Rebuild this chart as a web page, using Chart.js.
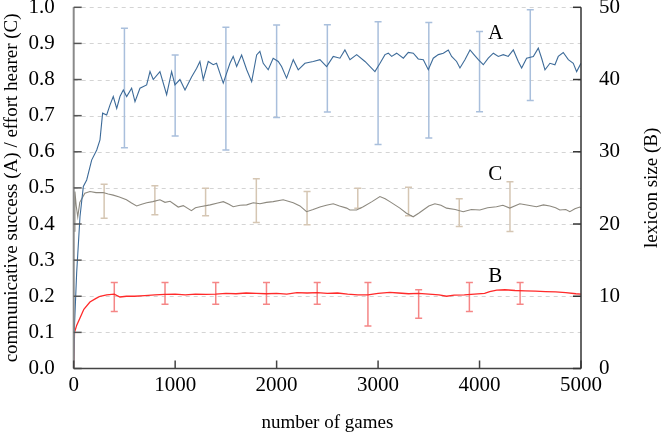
<!DOCTYPE html>
<html>
<head>
<meta charset="utf-8">
<script src="https://cdn.jsdelivr.net/npm/chart.js@4"></script>
<style>
  html, body { margin: 0; padding: 0; background: #fff; }
  #wrap { width: 664px; height: 435px; position: relative; }
</style>
</head>
<body>
<div id="wrap"><canvas id="c"></canvas></div>
<script>
// ---- data ----
const xTicks = [0, 1000, 2000, 3000, 4000, 5000];

// A: communicative success (left axis)
const seriesA = [[0,0],[8,0.12],[29,0.264],[62,0.42],[95,0.504],[128,0.522],[177,0.577],[227,0.605],[259,0.633],[285,0.707],[325,0.702],[358,0.73],[390,0.753],[424,0.72],[456,0.753],[489,0.771],[522,0.753],[571,0.776],[604,0.739],[653,0.776],[719,0.785],[752,0.822],[784,0.8],[850,0.822],[916,0.758],[965,0.822],[998,0.785],[1047,0.8],[1097,0.771],[1163,0.808],[1212,0.831],[1244,0.85],[1277,0.8],[1326,0.85],[1375,0.841],[1408,0.845],[1474,0.79],[1540,0.845],[1572,0.864],[1606,0.836],[1655,0.868],[1705,0.827],[1754,0.794],[1803,0.868],[1835,0.878],[1868,0.845],[1917,0.827],[1966,0.859],[2016,0.85],[2049,0.836],[2098,0.804],[2164,0.855],[2213,0.827],[2279,0.845],[2361,0.85],[2427,0.855],[2493,0.836],[2558,0.864],[2624,0.859],[2673,0.882],[2723,0.855],[2789,0.869],[2871,0.85],[2969,0.822],[3019,0.845],[3068,0.869],[3101,0.873],[3134,0.864],[3183,0.873],[3249,0.859],[3298,0.875],[3347,0.873],[3396,0.857],[3446,0.855],[3495,0.827],[3544,0.859],[3594,0.869],[3643,0.873],[3692,0.882],[3725,0.864],[3774,0.85],[3807,0.832],[3856,0.855],[3906,0.882],[3945,0.869],[3988,0.855],[4037,0.841],[4086,0.859],[4136,0.873],[4185,0.864],[4234,0.869],[4283,0.864],[4333,0.882],[4382,0.85],[4415,0.832],[4464,0.859],[4530,0.864],[4579,0.887],[4612,0.859],[4645,0.827],[4694,0.845],[4743,0.841],[4776,0.864],[4825,0.875],[4875,0.855],[4924,0.845],[4957,0.822],[5000,0.845]];

// C: effort hearer (left axis)
const seriesC = [[5,0.38],[12,0.49],[25,0.45],[40,0.42],[60,0.46],[80,0.47],[110,0.485],[160,0.49],[220,0.487],[290,0.487],[340,0.483],[390,0.48],[450,0.475],[520,0.467],[570,0.458],[620,0.45],[670,0.455],[720,0.459],[780,0.462],[850,0.467],[900,0.46],[950,0.463],[1030,0.447],[1080,0.451],[1160,0.437],[1200,0.445],[1245,0.448],[1345,0.453],[1420,0.458],[1475,0.462],[1530,0.455],[1572,0.448],[1640,0.452],[1705,0.453],[1770,0.459],[1836,0.456],[1900,0.46],[1966,0.462],[2065,0.467],[2164,0.459],[2230,0.45],[2295,0.434],[2360,0.44],[2427,0.447],[2490,0.452],[2558,0.456],[2620,0.45],[2690,0.444],[2722,0.439],[2788,0.439],[2854,0.448],[2940,0.462],[3018,0.476],[3070,0.47],[3116,0.462],[3215,0.444],[3280,0.43],[3346,0.42],[3400,0.43],[3445,0.439],[3500,0.45],[3560,0.456],[3620,0.452],[3675,0.444],[3760,0.44],[3839,0.434],[3920,0.44],[4003,0.439],[4080,0.445],[4167,0.448],[4230,0.452],[4298,0.444],[4397,0.456],[4480,0.452],[4561,0.448],[4630,0.453],[4693,0.45],[4750,0.445],[4791,0.439],[4850,0.44],[4890,0.434],[4940,0.442],[4988,0.447],[5000,0.445]];

// B: lexicon size (right axis)
const seriesB = [[0,0],[8,5],[30,6],[62,7],[100,8.2],[160,9.2],[220,9.7],[260,10],[325,10.2],[400,10.3],[456,9.9],[520,10.0],[600,10.0],[700,10.1],[800,10.2],[900,10.25],[1000,10.3],[1100,10.2],[1200,10.3],[1300,10.25],[1400,10.3],[1500,10.4],[1600,10.35],[1700,10.45],[1800,10.4],[1900,10.35],[2000,10.4],[2100,10.3],[2200,10.5],[2300,10.45],[2400,10.5],[2500,10.4],[2600,10.45],[2700,10.3],[2800,10.2],[2900,10.2],[3000,10.4],[3116,10.55],[3200,10.45],[3300,10.35],[3400,10.4],[3500,10.3],[3600,10.2],[3675,10.0],[3750,10.15],[3850,10.2],[3950,10.3],[4050,10.4],[4100,10.65],[4170,10.85],[4250,10.9],[4350,10.8],[4450,10.75],[4550,10.7],[4650,10.65],[4750,10.6],[4850,10.5],[4950,10.35],[5000,10.3]];

// error bars
const errAx = [500, 1000, 1500, 2000, 2500, 3000, 3500, 4000, 4500];
const errAlow = [0.611, 0.644, 0.605, 0.695, 0.71, 0.62, 0.638, 0.711, 0.742];
const errAhigh = [0.942, 0.868, 0.945, 0.951, 0.952, 0.96, 0.958, 0.933, 0.993];
const errCx = [300, 800, 1300, 1800, 2300, 2800, 3300, 3800, 4300];
const errClow = [0.416, 0.426, 0.423, 0.404, 0.398, 0.444, 0.423, 0.393, 0.379];
const errChigh = [0.51, 0.506, 0.499, 0.525, 0.49, 0.499, 0.502, 0.47, 0.517];
const errBx = [400, 900, 1400, 1900, 2400, 2900, 3400, 3900, 4400];
const errBlow = [7.9, 8.9, 8.9, 8.9, 8.9, 5.9, 6.95, 7.9, 8.9];
const errBhigh = [11.9, 11.9, 11.9, 11.9, 11.9, 11.9, 10.9, 11.9, 11.9];

// series labels
const labelText = ['A', 'C', 'B'];
const labelX = [4157, 4155, 4155];
const labelY = [0.927, 0.538, 12.67];
const labelAxis = ['y', 'y', 'y2'];

const FONT = "'Liberation Serif', 'Times New Roman', serif";
const FAMILY = "'Liberation Serif', 'Times New Roman', serif";
Chart.defaults.font.family = FAMILY;
Chart.defaults.color = '#000';

const errorBars = [
  { xs: errAx, lo: errAlow, hi: errAhigh, axis: 'y', color: '#a9bfdc' },
  { xs: errCx, lo: errClow, hi: errChigh, axis: 'y', color: '#d5c6b3' },
  { xs: errBx, lo: errBlow, hi: errBhigh, axis: 'y2', color: '#f58686' }
];

const decor = {
  id: 'decor',
  beforeDatasetsDraw(chart) {
    const ctx = chart.ctx, a = chart.chartArea, ys = chart.scales.y, xs = chart.scales.x;
    ctx.save();
    ctx.strokeStyle = '#d4d4d4';
    ctx.lineWidth = 1;
    ctx.setLineDash([4, 4]);
    ys.ticks.forEach(t => {
      if (t.value <= 0.0001) return;
      const y = Math.round(ys.getPixelForValue(t.value)) + 0.5;
      ctx.beginPath(); ctx.moveTo(a.left, y); ctx.lineTo(a.right, y); ctx.stroke();
    });
    ctx.setLineDash([]);
    errorBars.forEach(eb => {
      const sc = chart.scales[eb.axis];
      ctx.strokeStyle = eb.color;
      ctx.lineWidth = 1.5;
      eb.xs.forEach((gx, i) => {
        const px = xs.getPixelForValue(gx);
        const y1 = sc.getPixelForValue(eb.lo[i]);
        const y2 = sc.getPixelForValue(eb.hi[i]);
        ctx.beginPath();
        ctx.moveTo(px, y1); ctx.lineTo(px, y2);
        ctx.moveTo(px - 3.5, y1); ctx.lineTo(px + 3.5, y1);
        ctx.moveTo(px - 3.5, y2); ctx.lineTo(px + 3.5, y2);
        ctx.stroke();
      });
    });
    ctx.restore();
  },
  afterDatasetsDraw(chart) {
    const ctx = chart.ctx, a = chart.chartArea, ys = chart.scales.y, y2 = chart.scales.y2, xs = chart.scales.x;
    ctx.save();
    ctx.strokeStyle = '#8a8a8a'; ctx.lineWidth = 2;
    ctx.beginPath(); ctx.moveTo(a.left, a.top); ctx.lineTo(a.left, a.bottom); ctx.stroke();
    ctx.strokeStyle = '#555'; ctx.lineWidth = 1.5;
    ys.ticks.forEach(t => {
      const y = ys.getPixelForValue(t.value);
      ctx.beginPath(); ctx.moveTo(a.left, y); ctx.lineTo(a.left + 8, y); ctx.stroke();
    });
    ctx.strokeStyle = '#444'; ctx.lineWidth = 1.5;
    ctx.beginPath(); ctx.moveTo(a.left, a.bottom); ctx.lineTo(a.right, a.bottom); ctx.stroke();
    xs.ticks.forEach(t => {
      const x = xs.getPixelForValue(t.value);
      ctx.beginPath(); ctx.moveTo(x, a.bottom); ctx.lineTo(x, a.bottom - 8); ctx.stroke();
    });
    ctx.strokeStyle = '#333'; ctx.lineWidth = 1.5;
    ctx.beginPath(); ctx.moveTo(a.right, a.top); ctx.lineTo(a.right, a.bottom); ctx.stroke();
    y2.ticks.forEach(t => {
      const y = y2.getPixelForValue(t.value);
      ctx.beginPath(); ctx.moveTo(a.right, y); ctx.lineTo(a.right - 8, y); ctx.stroke();
    });
    ctx.fillStyle = '#000';
    ctx.font = '21px ' + FONT;
    ctx.textAlign = 'center'; ctx.textBaseline = 'middle';
    labelText.forEach((s, i) => {
      ctx.fillText(s, xs.getPixelForValue(labelX[i]), chart.scales[labelAxis[i]].getPixelForValue(labelY[i]));
    });
    ctx.save();
    ctx.translate(652, (a.top + a.bottom) / 2);
    ctx.rotate(-Math.PI / 2);
    ctx.font = '19px ' + FONT;
    ctx.fillText('lexicon size (B)', 0, 0);
    ctx.restore();
    ctx.restore();
  }
};

const tickFont = { family: FAMILY, size: 21 };
const titleFont = { family: FAMILY, size: 19 };

new Chart(document.getElementById('c'), {
  type: 'line',
  data: {
    datasets: [
      { label: 'A', data: seriesA.map(p => ({ x: p[0], y: p[1] })), yAxisID: 'y', borderColor: '#3d6b99', borderWidth: 1.1, pointRadius: 0, tension: 0, fill: false },
      { label: 'C', data: seriesC.map(p => ({ x: p[0], y: p[1] })), yAxisID: 'y', borderColor: '#8d897f', borderWidth: 1.1, pointRadius: 0, tension: 0, fill: false },
      { label: 'B', data: seriesB.map(p => ({ x: p[0], y: p[1] })), yAxisID: 'y2', borderColor: '#ff2a2a', borderWidth: 1.3, pointRadius: 0, tension: 0, fill: false }
    ]
  },
  options: {
    responsive: true,
    maintainAspectRatio: false,
    animation: false,
    layout: { autoPadding: false, padding: { top: 7.3, left: 0, right: 0, bottom: 0 } },
    plugins: { legend: { display: false }, tooltip: { enabled: false } },
    scales: {
      x: {
        type: 'linear', min: 0, max: 5000,
        afterBuildTicks: s => { s.ticks = xTicks.map(v => ({ value: v })); },
        grid: { display: false, drawTicks: false },
        border: { display: false },
        ticks: { padding: 4, font: tickFont, color: '#000', maxRotation: 0, callback: v => String(v) },
        title: { display: true, text: 'number of games', font: titleFont, color: '#000', padding: { top: 0, bottom: 1 } },
        afterFit: s => { s.height = 66.5; s.paddingLeft = 0; s.paddingRight = 0; }
      },
      y: {
        position: 'left', min: 0, max: 1,
        ticks: { stepSize: 0.1, padding: 19, font: tickFont, color: '#000', callback: v => v.toFixed(1) },
        grid: { display: false, drawTicks: false },
        border: { display: false },
        title: { display: true, text: 'communicative success (A) / effort hearer (C)', font: titleFont, color: '#000', padding: { top: 1, bottom: 0 } },
        afterFit: s => { s.width = 73.7; s.paddingTop = 0; s.paddingBottom = 0; }
      },
      y2: {
        position: 'right', min: 0, max: 50,
        ticks: { stepSize: 10, padding: 18, font: tickFont, color: '#000', callback: v => String(v) },
        grid: { display: false, drawTicks: false },
        border: { display: false },
        afterFit: s => { s.width = 83; s.paddingTop = 0; s.paddingBottom = 0; }
      }
    }
  },
  plugins: [decor]
});
</script>
</body>
</html>
